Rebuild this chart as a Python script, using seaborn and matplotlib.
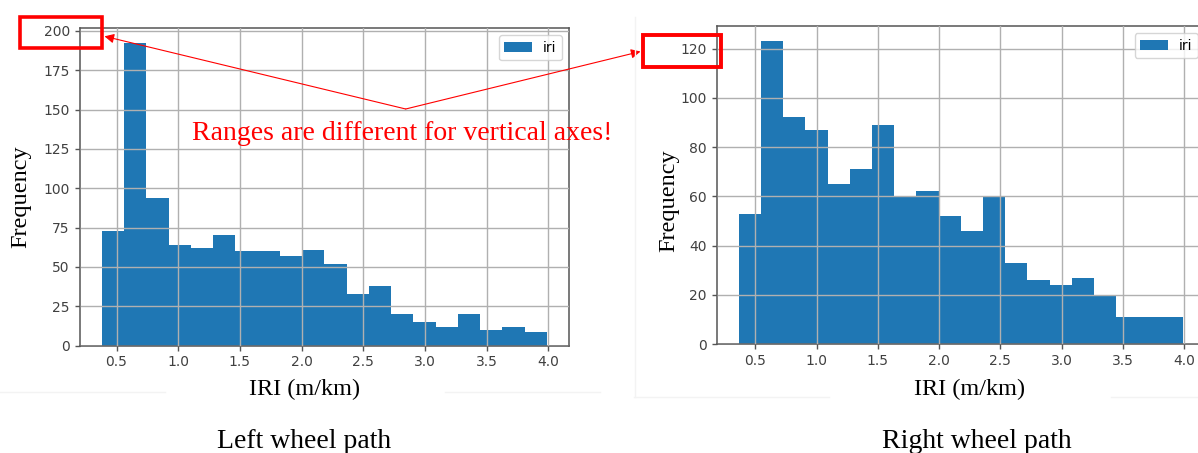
import numpy as np
import pandas as pd
import matplotlib
matplotlib.use("Agg")
import matplotlib.pyplot as plt
from matplotlib.patches import Rectangle, FancyArrowPatch
from matplotlib.lines import Line2D
import seaborn as sns

# ---------------- data ----------------
left_counts = [73, 192, 94, 64, 62, 70, 60, 60, 57, 61,
               52, 33, 38, 20, 15, 12, 20, 10, 12, 9]
left_range = (0.38, 3.99)

right_counts = [53, 123, 92, 87, 65, 71, 89, 60, 62, 52,
                46, 60, 33, 26, 24, 27, 20, 11, 11, 11]
right_range = (0.365, 3.99)

x_ticks = [0.5, 1.0, 1.5, 2.0, 2.5, 3.0, 3.5, 4.0]
left_yticks = [0, 25, 50, 75, 100, 125, 150, 175, 200]
right_yticks = [0, 20, 40, 60, 80, 100, 120]

series_label = "iri"
x_label = "IRI (m/km)"
y_label = "Frequency"
left_caption = "Left wheel path"
right_caption = "Right wheel path"
note_text = "Ranges are different for vertical axes!"

# ---------------- figure ----------------
W, H = 1198, 453
fig = plt.figure(figsize=(W / 100, H / 100), dpi=100)
fig.patch.set_facecolor("white")

def fx(x):
    return x / W

def fy(y):
    return 1 - y / H

def frame(l, t, r, b):
    return [fx(l), fy(b), fx(r) - fx(l), fy(t) - fy(b)]

ax_l = fig.add_axes(frame(79.5, 28.3, 569.2, 345.7))
ax_r = fig.add_axes(frame(716.7, 26.0, 1205.0, 344.0))

BLUE = "#1f77b4"
SERIF = ["Liberation Serif", "DejaVu Serif"]


def draw_hist(ax, counts, rng, yticks):
    n = len(counts)
    width = (rng[1] - rng[0]) / n
    centers = rng[0] + width * (np.arange(n) + 0.5)
    df = pd.DataFrame({"iri": centers, "count": counts})
    sns.histplot(data=df, x="iri", weights="count", bins=n, binrange=rng,
                 ax=ax, color=BLUE, alpha=1.0, linewidth=0,
                 edgecolor="none", label=series_label)
    ax.set_xlabel("")
    ax.set_ylabel("")
    ax.set_xticks(x_ticks)
    ax.set_yticks(yticks)
    pad = 0.05 * (rng[1] - rng[0])
    ax.set_xlim(rng[0] - pad, rng[1] + pad)
    ax.set_ylim(0, max(counts) * 1.05)
    ax.set_axisbelow(False)
    ax.grid(True, color="#b0b0b0", linewidth=1.0)
    for sp in ax.spines.values():
        sp.set_color("#555555")
        sp.set_linewidth(1.1)
    ax.tick_params(labelsize=10, colors="#555555", labelcolor="#404040",
                   length=3.5, width=1.0)
    ax.legend(loc="upper right", fontsize=10, handlelength=2.0)


draw_hist(ax_l, left_counts, left_range, left_yticks)
draw_hist(ax_r, right_counts, right_range, right_yticks)

# ---------------- labels (Times-like, placed as in the composite) ----------------
fig.text(fx(304.6), fy(395), x_label, family=SERIF, fontsize=17.5,
         ha="center", va="baseline")
fig.text(fx(969.4), fy(395), x_label, family=SERIF, fontsize=17.5,
         ha="center", va="baseline")
fig.text(fx(21), fy(196.7), y_label, family=SERIF, fontsize=17.5,
         ha="center", va="center", rotation=90)
fig.text(fx(669), fy(200.8), y_label, family=SERIF, fontsize=17.5,
         ha="center", va="center", rotation=90)
fig.text(fx(303.7), fy(448), left_caption, family=SERIF, fontsize=20,
         ha="center", va="baseline")
fig.text(fx(976.6), fy(448), right_caption, family=SERIF, fontsize=20,
         ha="center", va="baseline")

# ---------------- annotation ----------------
fig.text(fx(191.5), fy(140.5), note_text, family=SERIF, fontsize=20,
         color="red", ha="left", va="baseline")

fig.add_artist(Rectangle((fx(20.2), fy(47.6)), fx(101.5) - fx(20.2),
                         fy(16.7) - fy(47.6), transform=fig.transFigure,
                         fill=False, edgecolor="red", linewidth=2.6))
fig.add_artist(Rectangle((fx(642.8), fy(66.6)), fx(721.3) - fx(642.8),
                         fy(35.0) - fy(66.6), transform=fig.transFigure,
                         fill=False, edgecolor="red", linewidth=2.8))

vertex = (fx(405.7), fy(109))
for tip in [(fx(104.5), fy(36.3)), (fx(640.5), fy(51.5))]:
    fig.add_artist(FancyArrowPatch(
        vertex, tip, transform=fig.transFigure, arrowstyle="-|>",
        mutation_scale=14, color="red", linewidth=0.8,
        shrinkA=0, shrinkB=0))

# faint screenshot borders of the composite
for (x0, y0, x1, y1) in [(0, 392, 165, 392), (445, 392, 600, 392),
                         (634, 397, 829, 397), (1111, 397, 1198, 397),
                         (634.5, 17, 634.5, 397)]:
    fig.add_artist(Line2D([fx(x0), fx(x1)], [fy(y0), fy(y1)],
                          transform=fig.transFigure, color="#f3f3f3",
                          linewidth=1.0))

fig.savefig("out.png", dpi=100, facecolor="white")
